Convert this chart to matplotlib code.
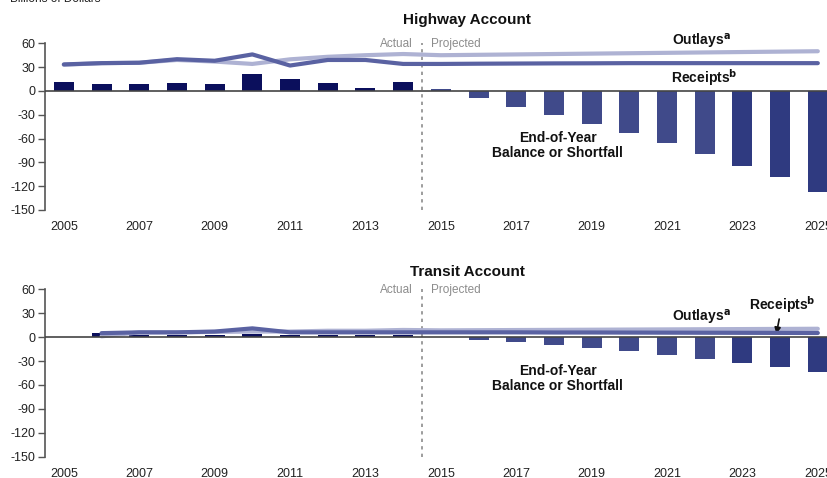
import matplotlib
matplotlib.use("Agg")
import matplotlib.pyplot as plt

plt.rcParams["font.family"] = ["Liberation Sans", "DejaVu Sans"]

# ---------------- data ----------------
years = list(range(2005, 2026))
xticks = list(range(2005, 2026, 2))
yticks = [60, 30, 0, -30, -60, -90, -120, -150]

hw_balance = [11, 9.3, 8.5, 10, 9.3, 21, 14.4, 10, 3.8, 11.4,
              2, -9, -20, -30, -42, -53, -66, -80, -94, -109, -127]
hw_outlays = [33, 35, 35.5, 39, 37, 34, 39.8, 43, 45, 46.5,
              45, 45.5, 46, 46.5, 47, 47.5, 48, 48.5, 49, 49.5, 50]
hw_receipts = [33.4, 35, 35.5, 40, 38, 46, 32, 39, 39, 34,
               34, 34.3, 34.5, 34.7, 34.8, 35, 35, 35, 35, 35, 35]

tr_years = list(range(2006, 2026))
tr_balance = [5, 3, 3, 3, 3.5, 3, 3, 3, 3,
              0.3, -3.4, -6.3, -9.7, -14, -17.7, -23, -28, -33, -38, -43.5]
tr_outlays = [1, 6, 6, 6.5, 7, 7, 8, 8, 9,
              8.5, 8.7, 8.9, 9.1, 9.3, 9.5, 9.7, 9.9, 10.1, 10.3, 10.5]
tr_receipts = [5, 6, 6, 7, 11, 6, 6, 6, 6,
               6, 6, 6, 5.8, 5.8, 5.7, 5.6, 5.5, 5.4, 5.3, 5.2]

# ---------------- style ----------------
C_ACT = "#0b0f5c"
C_PROJ = "#404a8a"
C_PROJ2 = "#2f3a80"
C_OUT = "#aeb2d3"
C_REC = "#5a62a2"
GRAY = "#8c8c8c"
TXT = "#222222"

def bar_colors(yrs):
    cols = []
    for y in yrs:
        if y <= 2014:
            cols.append(C_ACT)
        elif y <= 2022:
            cols.append(C_PROJ)
        else:
            cols.append(C_PROJ2)
    return cols

W, H = 828, 478
fig = plt.figure(figsize=(W / 100, H / 100), dpi=100)

def px_axes(left, top, right, bottom):
    return fig.add_axes([left / W, 1 - bottom / H, (right - left) / W, (bottom - top) / H])

ax1 = px_axes(45, 43.3, 828, 210)
ax2 = px_axes(45, 289.3, 828, 456.7)

def draw(ax, yrs, bal, out, rec, title, title_y):
    ax.bar(yrs, bal, width=0.53, color=bar_colors(yrs), zorder=2)
    ax.plot(yrs, out, color=C_OUT, lw=3, zorder=3, solid_capstyle="round")
    ax.plot(yrs, rec, color=C_REC, lw=3, zorder=4, solid_capstyle="round")
    ax.axhline(0, color="#444444", lw=1.2, zorder=5)
    ax.axvline(2014.5, color=GRAY, lw=1.2, ls=(0, (2, 2.5)), zorder=1)
    ax.set_xlim(2004.5, 2025.27)
    ax.set_ylim(-150, 60)
    ax.set_xticks(xticks)
    ax.set_yticks(yticks)
    ax.set_yticklabels([str(v) for v in yticks])
    for s in ["top", "right", "bottom"]:
        ax.spines[s].set_visible(False)
    ax.spines["left"].set_color("#555555")
    ax.spines["left"].set_linewidth(1.2)
    ax.tick_params(axis="y", length=5, width=1, color="#555555", labelsize=9, pad=2,
                   labelcolor=TXT)
    ax.tick_params(axis="x", length=0, labelsize=9, pad=8, labelcolor=TXT)
    ax.text(2014.25, 59, "Actual", ha="right", va="center", color=GRAY, fontsize=8.5)
    ax.text(2014.75, 59, "Projected", ha="left", va="center", color=GRAY, fontsize=8.5)
    ax.set_facecolor("none")
    fig.text(467 / W, 1 - title_y / H, title, ha="center", va="center",
             fontsize=11, fontweight="bold", color="#111111")

draw(ax1, years, hw_balance, hw_outlays, hw_receipts, "Highway Account", 20)
draw(ax2, tr_years, tr_balance, tr_outlays, tr_receipts, "Transit Account", 272)

# annotations
lab = dict(fontsize=10, fontweight="bold", color="#111111")
ax1.text(2021.9, 62, r"Outlays$^{\mathbf{a}}$", ha="center", va="center", **lab)
ax1.text(2022.0, 17, r"Receipts$^{\mathbf{b}}$", ha="center", va="center", **lab)
ax1.text(2018.1, -69, "End-of-Year\nBalance or Shortfall", ha="center", va="center",
         linespacing=1.1, **lab)
ax2.text(2021.9, 24, r"Outlays$^{\mathbf{a}}$", ha="center", va="center", **lab)
ax2.annotate(r"Receipts$^{\mathbf{b}}$", xy=(2023.9, 4), xytext=(2024.05, 41),
             ha="center", va="center", **lab,
             arrowprops=dict(arrowstyle="-|>", color="#111111", lw=1.2,
                             mutation_scale=9, shrinkA=1, shrinkB=0))
ax2.text(2018.1, -52, "End-of-Year\nBalance or Shortfall", ha="center", va="center",
         linespacing=1.1, **lab)

fig.text(10 / W, 1 + 1 / H, "Billions of Dollars", ha="left", va="center",
         fontsize=8.5, color=TXT)

fig.savefig("out.png", dpi=100)
